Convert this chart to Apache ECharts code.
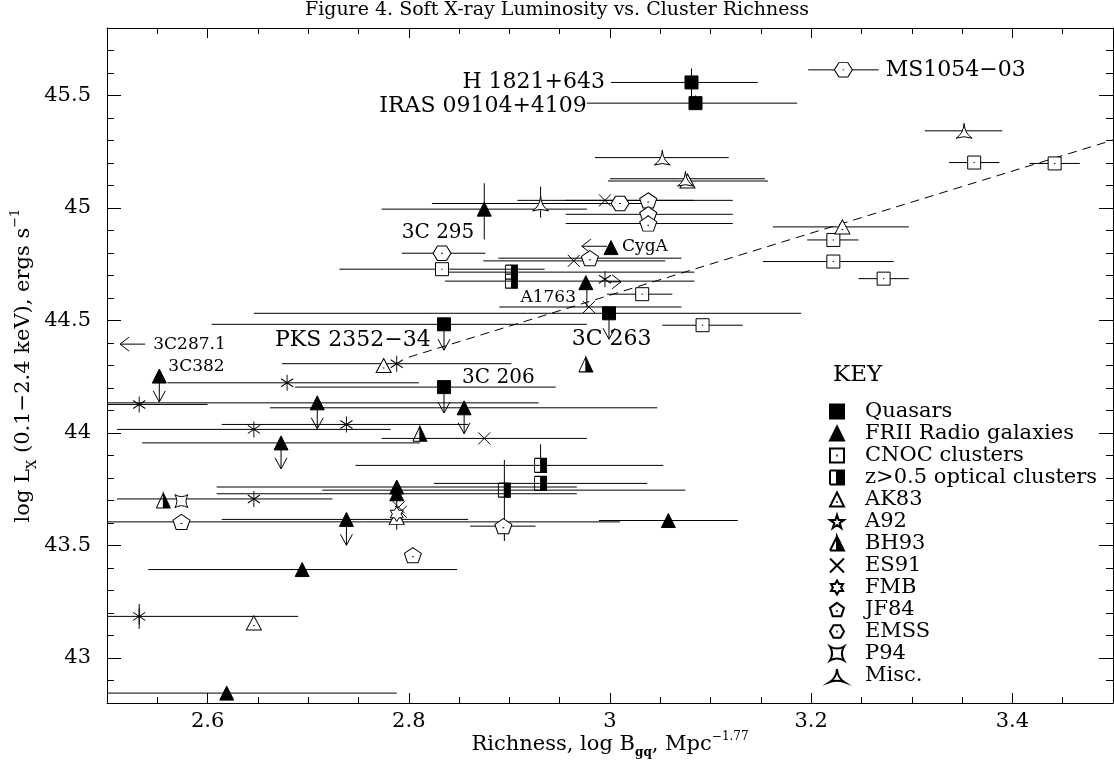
<!DOCTYPE html>
<html>
<head>
<meta charset="utf-8">
<script src="https://cdn.jsdelivr.net/npm/echarts@6/dist/echarts.min.js"></script>
<style>
html, body { margin: 0; padding: 0; background: #fff; }
#chart { width: 1114px; height: 772px; }
</style>
</head>
<body>
<div id="chart"></div>
<script>
// tick labels
const xTickLabels = [2.6, 2.8, 3, 3.2, 3.4];
const yTickLabels = [43, 43.5, 44, 44.5, 45, 45.5];

// rows: [log Bgq, log Lx, bar low, bar high]  (null = no horizontal bar)
const quasars = [
  [3.081, 45.558, 3.001, 3.147],
  [3.085, 45.466, 2.977, 3.186],
  [2.835, 44.483, 2.604, 2.977],
  [2.999, 44.532, 2.646, 3.190],
  [2.835, 44.204, 2.687, 2.946]
];
const frii = [
  [2.875, 44.995, 2.773, 2.977],
  [3.001, 44.824, null, null],
  [2.976, 44.668, null, null],
  [2.552, 44.253, null, null],
  [2.709, 44.134, 2.5, 2.929],
  [2.855, 44.112, 2.662, 3.047],
  [2.673, 43.956, 2.535, 2.811],
  [2.788, 43.760, 2.609, 2.967],
  [2.788, 43.730, 2.609, 2.967],
  [2.738, 43.616, 2.614, 2.859],
  [3.058, 43.611, 2.989, 3.127],
  [2.694, 43.393, 2.541, 2.848],
  [2.619, 42.844, 2.5, 2.788]
];
const cnoc = [
  [3.362, 45.202, 3.337, 3.387],
  [3.442, 45.198, 3.417, 3.467],
  [3.222, 44.858, 3.196, 3.247],
  [3.222, 44.762, 3.152, 3.282],
  [3.272, 44.686, 3.247, 3.297],
  [3.092, 44.479, 3.052, 3.132],
  [3.032, 44.617, 2.997, 3.062],
  [2.833, 44.728, 2.731, 2.935]
];
const optical = [
  [2.902, 44.715, 2.836, 3.084],
  [2.902, 44.675, 2.836, 3.084],
  [2.931, 43.856, 2.747, 3.053],
  [2.931, 43.776, 2.825, 3.037],
  [2.895, 43.746, 2.714, 3.075]
];
const ak83 = [
  [3.077, 45.120, 2.998, 3.157],
  [3.231, 44.916, 3.162, 3.297],
  [2.775, 44.300, null, null],
  [2.788, 43.625, null, null],
  [2.646, 43.156, null, null]
];
const a92 = [];
const bh93 = [
  [2.976, 44.305, null, null],
  [2.811, 43.997, null, null],
  [2.556, 43.700, null, null]
];
const es91 = [
  [2.995, 45.034, 2.908, 3.083],
  [2.964, 44.765, 2.874, 3.055],
  [2.979, 44.560, 2.890, 3.071],
  [2.875, 43.976, 2.773, 2.977],
  [2.790, 43.670, null, null],
  [2.792, 43.650, null, null]
];
const es91Star = [
  [2.788, 44.308, 2.674, 2.902],
  [2.995, 44.683, null, null],
  [2.679, 44.223, 2.560, 2.810],
  [2.532, 44.127, 2.5, 2.600],
  [2.738, 44.038, 2.614, 2.859],
  [2.646, 44.016, 2.510, 2.782],
  [2.646, 43.707, 2.510, 2.724],
  [2.532, 43.185, 2.5, 2.690]
];
const fmb = [
  [2.788, 43.640, null, null]
];
const jf84 = [
  [3.038, 45.034, 2.956, 3.122],
  [3.038, 44.972, 2.956, 3.122],
  [3.038, 44.931, 2.956, 3.122],
  [2.980, 44.777, 2.889, 3.071],
  [2.894, 43.586, 2.861, 2.926],
  [2.574, 43.605, 2.5, 3.010],
  [2.804, 43.457, null, null]
];
const emss = [
  [3.232, 45.614, 3.197, 3.267],
  [3.010, 45.020, 2.982, 3.040],
  [2.833, 44.799, 2.793, 2.876]
];
const p94 = [
  [2.574, 43.697, null, null]
];
const misc = [
  [3.052, 45.224, 2.985, 3.118],
  [3.075, 45.130, 3.000, 3.154],
  [3.352, 45.343, 3.313, 3.390],
  [2.931, 45.020, 2.823, 3.038]
];

// upper limits [x, y]
const upperLimits = [
  [2.835, 44.483], [2.999, 44.532], [2.835, 44.204],
  [2.552, 44.253], [2.709, 44.134], [2.855, 44.112], [2.673, 43.956], [2.738, 43.616]
];
// vertical bars [x, yLow, yHigh]
const yErrors = [
  [3.081, 45.49, 45.62],
  [3.085, 45.44, 45.50],
  [2.875, 44.86, 45.11],
  [2.931, 44.957, 45.095],
  [2.977, 44.56, 44.668],
  [2.931, 43.856, 43.95],
  [2.895, 43.52, 43.88],
  [2.788, 43.57, 43.79],
  [2.532, 43.13, 43.24]
];
// horizontal limit arrows [from, to, y]
const xArrows = [
  [2.997, 2.972, 44.83],
  [2.538, 2.513, 44.395],
  [2.998, 3.011, 44.672]
];
// dashed fit
const fitLine = [[2.8, 44.337], [3.5, 45.302]];

// object names [text, x, y, align]
const bigLabels = [
  ['H 1821+643', 2.995, 45.558, 'right'],
  ['IRAS 09104+4109', 2.977, 45.454, 'right'],
  ['MS1054\u221203', 3.274, 45.614, 'left'],
  ['PKS 2352\u221234', 2.667, 44.412, 'left'],
  ['3C 263', 2.962, 44.416, 'left']
];
const midLabels = [
  ['3C 295', 2.793, 44.890, 'left'],
  ['3C 206', 2.853, 44.245, 'left']
];
const smallLabels = [
  ['CygA', 3.012, 44.827, 'left'],
  ['A1763', 2.911, 44.601, 'left'],
  ['3C287.1', 2.546, 44.391, 'left'],
  ['3C382', 2.561, 44.293, 'left']
];

const FONT = 'DejaVu Serif';
const LIMIT_LEN = 0.115;
const black = { color: '#000', width: 1 };

const SYM = {
  cnoc: 'path://M0 0L100 0L100 100L0 100Z M45 50L55 50',
  optical: 'path://M50 0L100 0L100 100L50 100Z M0 0L50 0 M0 0L0 100 M0 100L50 100',
  ak83: 'path://M50 0L100 100L0 100Z M45 68L55 68',
  a92: 'path://M50 0L61.2 34.6L97.6 34.5L68.1 55.9L79.4 90.5L50 69L20.6 90.5L31.9 55.9L2.4 34.5L38.8 34.6Z',
  bh93: 'path://M50 0L100 100L50 100Z M50 0L0 100 M0 100L50 100',
  es91: 'path://M0 0L100 100 M100 0L0 100',
  star: 'path://M50 0L50 100 M93.3 25L6.7 75 M6.7 25L93.3 75',
  fmb: 'path://M50 0L64.5 24.9L93.3 25L79 50L93.3 75L64.5 75.1L50 100L35.5 75.1L6.7 75L21 50L6.7 25L35.5 24.9Z',
  jf84: 'path://M50 0L97.6 34.5L79.4 90.5L20.6 90.5L2.4 34.5Z M45 55L55 55',
  emss: 'path://M0 50L25 5L75 5L100 50L75 95L25 95Z M45 50L55 50',
  p94: 'path://M0 0Q50 30 100 0Q70 50 100 100Q50 70 0 100Q30 50 0 0Z',
  misc: 'path://M50 0Q54 62 100 92Q50 74 0 92Q46 62 50 0Z'
};

const openStyle = { color: '#fff', borderColor: '#000', borderWidth: 1, opacity: 1 };
const solidStyle = { color: '#000', borderColor: '#000', borderWidth: 1, opacity: 1 };

function scatter(name, rows, symbol, size, itemStyle) {
  return {
    name: name, type: 'scatter', symbol: symbol, symbolSize: size, symbolKeepAspect: true,
    itemStyle: itemStyle, z: 5, silent: true,
    data: rows.map(r => [r[0], r[1]])
  };
}

const allRows = [quasars, frii, cnoc, optical, ak83, a92, bh93, es91, es91Star, fmb, jf84, emss, p94, misc];
const hBars = allRows.flat().filter(r => r[2] != null).map(r => [r[2], r[3], r[1]]);

function lineEl(a, b) {
  return { type: 'line', shape: { x1: a[0], y1: a[1], x2: b[0], y2: b[1] }, style: { stroke: '#000', lineWidth: 1 } };
}

function labelSeries(rows, size) {
  return {
    type: 'custom', silent: true, z: 6,
    data: rows.map(r => [r[1], r[2]]),
    renderItem: function (p, api) {
      const r = rows[p.dataIndex];
      const c = api.coord([r[1], r[2]]);
      return {
        type: 'text', x: c[0], y: c[1],
        style: { text: r[0], fill: '#000', font: size + 'px "' + FONT + '"', align: r[3], verticalAlign: 'middle' }
      };
    }
  };
}

function xAxes(pos) {
  return [
    {
      type: 'value', min: 2.5, max: 3.5, position: pos,
      axisLine: { show: true, onZero: false, lineStyle: black },
      axisTick: { show: true, inside: true, length: 10, customValues: xTickLabels, lineStyle: black },
      axisLabel: { show: pos === 'bottom', customValues: xTickLabels, fontFamily: FONT, fontSize: 21, color: '#000', margin: 8 },
      splitLine: { show: false }
    },
    {
      type: 'value', min: 2.5, max: 3.5, interval: 0.05, position: pos,
      axisLine: { show: false, onZero: false },
      axisTick: { show: true, inside: true, length: 6, lineStyle: black },
      axisLabel: { show: false }, splitLine: { show: false }
    }
  ];
}
function yAxes(pos) {
  return [
    {
      type: 'value', min: 42.8, max: 45.8, position: pos,
      axisLine: { show: true, onZero: false, lineStyle: black },
      axisTick: { show: true, inside: true, length: 14, customValues: yTickLabels, lineStyle: black },
      axisLabel: { show: pos === 'left', customValues: yTickLabels, fontFamily: FONT, fontSize: 21, color: '#000', margin: 16 },
      splitLine: { show: false }
    },
    {
      type: 'value', min: 42.8, max: 45.8, interval: 0.1, position: pos,
      axisLine: { show: false, onZero: false },
      axisTick: { show: true, inside: true, length: 7, lineStyle: black },
      axisLabel: { show: false }, splitLine: { show: false }
    }
  ];
}

const xs = xAxes('bottom').concat(xAxes('top'));
xs[0].name = '{a|Richness, log B}{sub|gq}{a|, Mpc}{sup|\u22121.77}';
xs[0].nameLocation = 'middle';
xs[0].nameMoveOverlap = false;
xs[0].nameGap = 28;
xs[0].nameTextStyle = {
  fontFamily: FONT, fontSize: 21, color: '#000',
  rich: {
    a: { fontFamily: FONT, fontSize: 21, color: '#000', lineHeight: 28 },
    sub: { fontFamily: FONT, fontSize: 12, fontWeight: 'bold', color: '#000', verticalAlign: 'bottom' },
    sup: { fontFamily: FONT, fontSize: 12, color: '#000', verticalAlign: 'top' }
  }
};
const ys = yAxes('left').concat(yAxes('right'));
ys[0].name = '{a|log L}{sub|X}{a| (0.1\u22122.4 keV), ergs s}{sup|\u22121}';
ys[0].nameLocation = 'middle';
ys[0].nameRotate = 90;
ys[0].nameMoveOverlap = false;
ys[0].nameGap = 68;
ys[0].nameTextStyle = {
  fontFamily: FONT, fontSize: 21, color: '#000',
  rich: {
    a: { fontFamily: FONT, fontSize: 21, color: '#000', lineHeight: 30 },
    sub: { fontFamily: FONT, fontSize: 13, color: '#000', verticalAlign: 'bottom' },
    sup: { fontFamily: FONT, fontSize: 13, color: '#000', verticalAlign: 'top' }
  }
};

const legendNames = ['Quasars', 'FRII Radio galaxies', 'CNOC clusters', 'z>0.5 optical clusters', 'AK83', 'A92',
  'BH93', 'ES91', 'FMB', 'JF84', 'EMSS', 'P94', 'Misc.'];

const option = {
  animation: false,
  backgroundColor: '#fff',
  title: [
    { text: 'Figure 4. Soft X-ray Luminosity vs. Cluster Richness', left: 'center', top: 1, padding: 0,
      textStyle: { fontFamily: FONT, fontSize: 19, fontWeight: 'normal', color: '#000' } },
    { text: 'KEY', left: 833, top: 364, padding: 0,
      textStyle: { fontFamily: FONT, fontSize: 23, fontWeight: 'normal', color: '#000' } }
  ],
  legend: {
    data: legendNames, orient: 'vertical', left: 829, top: 401, itemGap: 1, itemWidth: 14, itemHeight: 14,
    selectedMode: false, padding: 0,
    textStyle: { fontFamily: FONT, fontSize: 21, color: '#000', lineHeight: 19, padding: [0, 0, 0, 16] }
  },
  grid: { left: 107, right: 1, top: 28, bottom: 69, outerBoundsMode: 'none', containLabel: false },
  xAxis: xs,
  yAxis: ys,
  series: [
    {
      type: 'custom', silent: true, z: 2, clip: true,
      data: hBars, encode: { x: [0, 1], y: 2 },
      renderItem: function (p, api) {
        return lineEl(api.coord([api.value(0), api.value(2)]), api.coord([api.value(1), api.value(2)]));
      }
    },
    {
      type: 'custom', silent: true, z: 2, clip: true,
      data: yErrors, encode: { x: 0, y: [1, 2] },
      renderItem: function (p, api) {
        return lineEl(api.coord([api.value(0), api.value(1)]), api.coord([api.value(0), api.value(2)]));
      }
    },
    {
      type: 'custom', silent: true, z: 3,
      data: upperLimits,
      renderItem: function (p, api) {
        const t = api.coord([api.value(0), api.value(1)]);
        const b = api.coord([api.value(0), api.value(1) - LIMIT_LEN]);
        return { type: 'group', children: [
          lineEl(t, b),
          { type: 'polyline', shape: { points: [[b[0] - 6, b[1] - 11], [b[0], b[1]], [b[0] + 6, b[1] - 11]] },
            style: { stroke: '#000', fill: null, lineWidth: 1 } }
        ] };
      }
    },
    {
      type: 'custom', silent: true, z: 3,
      data: xArrows, encode: { x: [0, 1], y: 2 },
      renderItem: function (p, api) {
        const f = api.coord([api.value(0), api.value(2)]);
        const t = api.coord([api.value(1), api.value(2)]);
        const d = t[0] < f[0] ? 9 : -9;
        return { type: 'group', children: [
          lineEl(f, t),
          { type: 'polyline', shape: { points: [[t[0] + d, t[1] - 7], [t[0], t[1]], [t[0] + d, t[1] + 7]] },
            style: { stroke: '#000', fill: null, lineWidth: 1 } }
        ] };
      }
    },
    {
      type: 'line', silent: true, z: 3, symbol: 'none', data: fitLine,
      lineStyle: { color: '#000', width: 1, type: [9, 6] }
    },
    scatter('Quasars', quasars, 'rect', 13, solidStyle),
    scatter('FRII Radio galaxies', frii, 'triangle', [14, 14], solidStyle),
    scatter('CNOC clusters', cnoc, SYM.cnoc, 13, openStyle),
    scatter('z>0.5 optical clusters', optical, SYM.optical, [12, 14], solidStyle),
    scatter('AK83', ak83, SYM.ak83, [15, 14], openStyle),
    scatter('A92', a92, SYM.a92, 15, openStyle),
    scatter('BH93', bh93, SYM.bh93, [14, 15], solidStyle),
    scatter('ES91', es91, SYM.es91, 12, openStyle),
    scatter('ES91*', es91Star, SYM.star, [14, 16], openStyle),
    scatter('FMB', fmb, SYM.fmb, 15, openStyle),
    scatter('JF84', jf84, SYM.jf84, [17, 16], openStyle),
    scatter('EMSS', emss, SYM.emss, [18, 16], openStyle),
    scatter('P94', p94, SYM.p94, 13, openStyle),
    scatter('Misc.', misc, SYM.misc, 16, openStyle),
    labelSeries(bigLabels, 22),
    labelSeries(midLabels, 20),
    labelSeries(smallLabels, 17)
  ]
};

const chart = echarts.init(document.getElementById('chart'));
chart.setOption(option);
</script>
</body>
</html>
